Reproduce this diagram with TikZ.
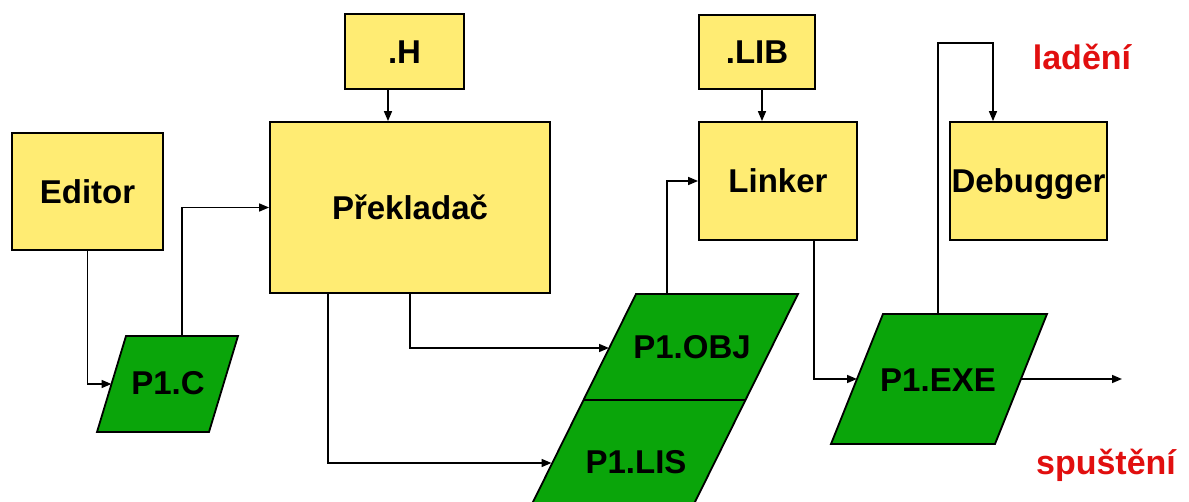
\documentclass[tikz,border=0pt]{standalone}
\usepackage{fontspec}
\setmainfont{Liberation Sans}
\usetikzlibrary{arrows.meta,calc}
\definecolor{boxyellow}{RGB}{255,236,115}
\definecolor{filegreen}{RGB}{10,165,10}
\definecolor{labelred}{RGB}{225,15,15}
\tikzset{
  box/.style={draw=black, line width=1.8pt, fill=boxyellow, inner sep=0pt,
    font=\fontsize{33}{36}\selectfont\bfseries, text height=24pt, text depth=0pt},
  filebox/.style={draw=black, line width=1.8pt, fill=filegreen},
  filetext/.style={anchor=base, inner sep=0pt, font=\fontsize{33}{36}\selectfont\bfseries},
  redtext/.style={anchor=base, inner sep=0pt, text=labelred, font=\fontsize{34}{38}\selectfont\bfseries},
  conn/.style={draw=black, line width=1.5pt},
  arr/.style={conn, -{Triangle[length=10pt,width=8pt]}}
}
\begin{document}
\begin{tikzpicture}[x=1pt,y=-1pt]
\path[use as bounding box] (0,0) rectangle (1189,502);

% yellow boxes
\node[box, minimum width=151pt, minimum height=117pt] (editor) at (87.5,191.5) {Editor};
\node[box, minimum width=119pt, minimum height=75pt] (h) at (404.5,51.5) {.H};
\node[box, minimum width=280pt, minimum height=171pt] (prek) at (410,207.5) {Překladač};
\node[box, minimum width=116pt, minimum height=74pt] (lib) at (757,52) {.LIB};
\node[box, minimum width=158pt, minimum height=118pt] (linker) at (778,181) {Linker};
\node[box, minimum width=157pt, minimum height=118pt] (debugger) at (1028.5,181) {Debugger};

% green parallelograms
\filldraw[filebox] (126,336) -- (238,336) -- (209,432) -- (97,432) -- cycle;
\node[filetext] (pc) at (168,395) {P1.C};

\filldraw[filebox] (636,294) -- (798,294) -- (694,504) -- (532,504) -- cycle;
\draw[line width=1.8pt] (583,400) -- (745,400);
\node[filetext] (pobj) at (692,359) {P1.OBJ};
\node[filetext] (plis) at (636,473) {P1.LIS};

\filldraw[filebox] (883,314) -- (1047,314) -- (995,444) -- (831,444) -- cycle;
\node[filetext] (pexe) at (938,392) {P1.EXE};

% red labels
\node[redtext] (ladeni) at (1082,70) {ladění};
\node[redtext] (spusteni) at (1106,475) {spuštění};

% connector end points on the parallelogram edges
\coordinate (pcin) at (111.5,384);
\coordinate (pctop) at (182,336);
\coordinate (objin) at (609,348);
\coordinate (lisin) at (551.5,463);
\coordinate (objtop) at (667,294);
\coordinate (exein) at (857,379);
\coordinate (exetop) at (938,314);
\coordinate (exeout) at (1021,379);
\coordinate (runend) at (1122,379);
\coordinate (dbgturn) at (938,43);
\coordinate (hx) at (388,0);
\coordinate (libx) at (762,0);
\coordinate (dbgx) at (993,0);
\coordinate (prekA) at (410,0);
\coordinate (prekB) at (328,0);
\coordinate (linkx) at (814,0);

% connectors
\draw[arr] (editor.south) |- (pcin);
\draw[arr] (pctop) |- (prek.west);
\draw[arr] (h.south -| hx) -- (prek.north -| hx);
\draw[arr] (prek.south -| prekA) |- (objin);
\draw[arr] (prek.south -| prekB) |- (lisin);
\draw[arr] (objtop) |- (linker.west);
\draw[arr] (lib.south -| libx) -- (linker.north -| libx);
\draw[arr] (linker.south -| linkx) |- (exein);
\draw[arr] (exetop) -- (dbgturn) -| (debugger.north -| dbgx);
\draw[arr] (exeout) -- (runend);
\end{tikzpicture}
\end{document}
